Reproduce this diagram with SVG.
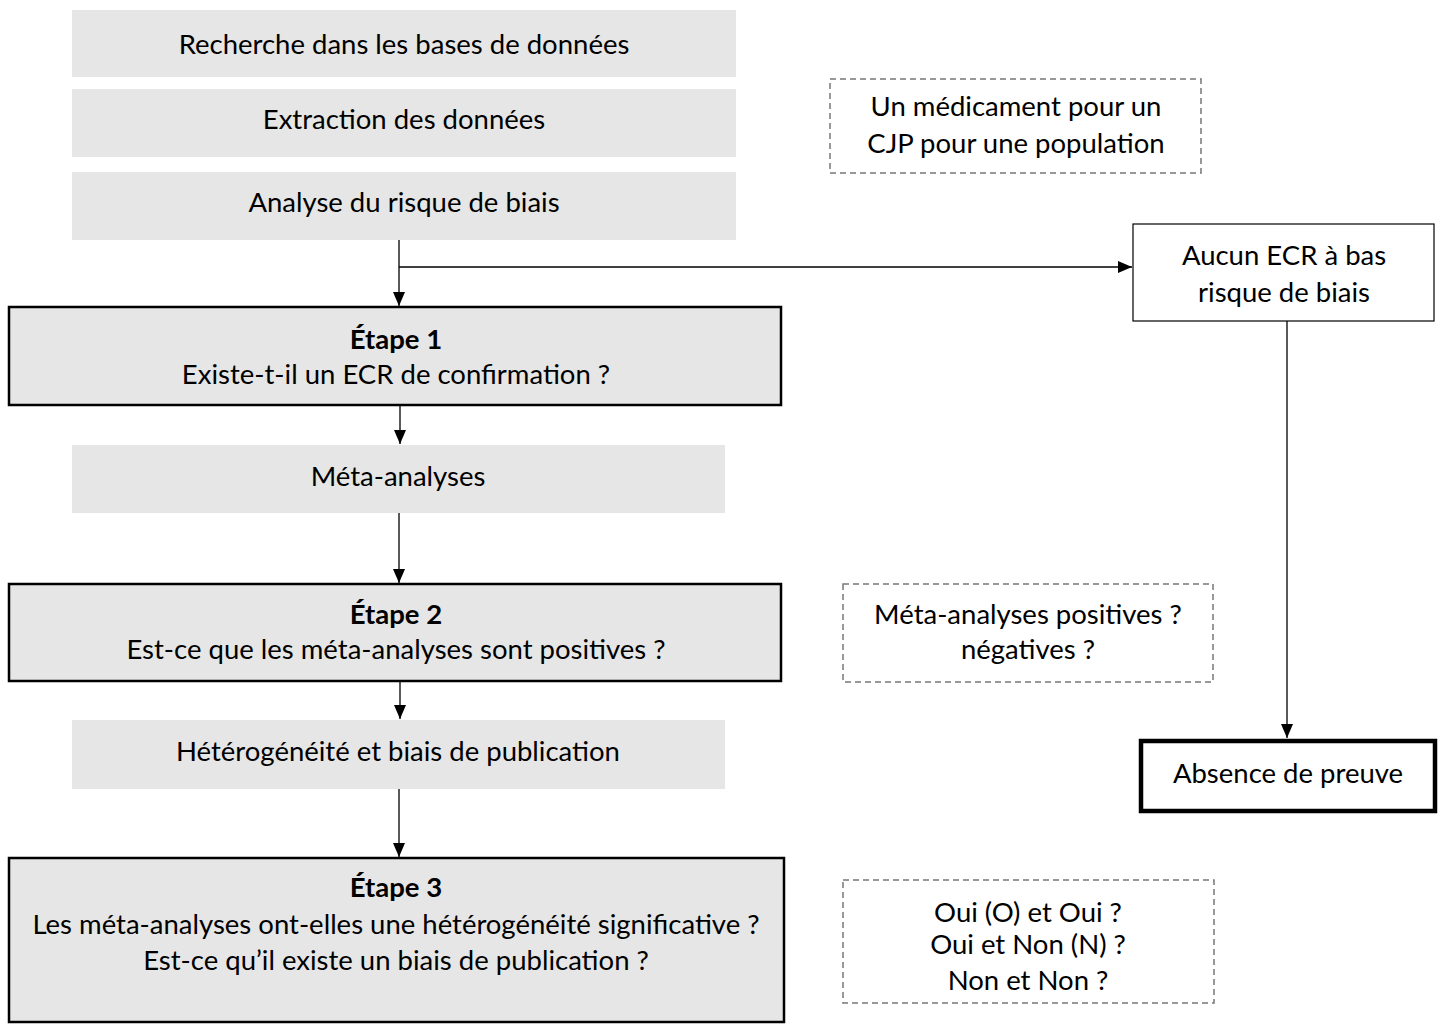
<svg xmlns="http://www.w3.org/2000/svg" width="1448" height="1024" viewBox="0 0 1448 1024">
<defs>
<style>
text{font-family:"Lato","Open Sans","Liberation Sans",sans-serif;font-size:27.5px;fill:#000;text-anchor:middle}
.b{font-weight:bold}
.g{fill:#e6e6e6;stroke:none}
.s{fill:#e6e6e6;stroke:#000;stroke-width:2.5}
.d{fill:#fff;stroke:#777;stroke-width:1.5;stroke-dasharray:6,4}
.w{fill:#fff;stroke:#000;stroke-width:1.2}
.t{fill:#fff;stroke:#000;stroke-width:4.5}
.c{fill:none;stroke:#000;stroke-width:1.3}
</style>
<marker id="ah" viewBox="0 0 14 12" refX="14" refY="6" markerWidth="14" markerHeight="12" markerUnits="userSpaceOnUse" orient="auto">
<path d="M0,0 L14,6 L0,12 z" fill="#000"/>
</marker>
</defs>
<rect width="1448" height="1024" fill="#fff"/>
<g id="connectors">
<path class="c" d="M399,240 V306" marker-end="url(#ah)"/>
<path class="c" d="M399,267 H1132" marker-end="url(#ah)"/>
<path class="c" d="M400,405 V444" marker-end="url(#ah)"/>
<path class="c" d="M399,513 V583" marker-end="url(#ah)"/>
<path class="c" d="M400,681 V719" marker-end="url(#ah)"/>
<path class="c" d="M399,789 V857" marker-end="url(#ah)"/>
<path class="c" d="M1287,321 V738" marker-end="url(#ah)"/>
</g>
<g id="n1"><rect class="g" x="72" y="10" width="664" height="67"/><text x="404" y="54">Recherche dans les bases de données</text></g>
<g id="n2"><rect class="g" x="72" y="89" width="664" height="68"/><text x="404" y="129">Extraction des données</text></g>
<g id="n3"><rect class="g" x="72" y="172" width="664" height="68"/><text x="404" y="212">Analyse du risque de biais</text></g>
<g id="e1"><rect class="s" x="9" y="307" width="772" height="98"/><text class="b" x="396" y="349">Étape 1</text><text x="396" y="384">Existe-t-il un ECR de confirmation ?</text></g>
<g id="n4"><rect class="g" x="72" y="445" width="653" height="68"/><text x="398" y="486">Méta-analyses</text></g>
<g id="e2"><rect class="s" x="9" y="584" width="772" height="97"/><text class="b" x="396" y="624">Étape 2</text><text x="396" y="659">Est-ce que les méta-analyses sont positives ?</text></g>
<g id="n5"><rect class="g" x="72" y="720" width="653" height="69"/><text x="398" y="761">Hétérogénéité et biais de publication</text></g>
<g id="e3"><rect class="s" x="9" y="858" width="775" height="164"/><text class="b" x="396" y="897">Étape 3</text><text x="396" y="934">Les méta-analyses ont-elles une hétérogénéité significative ?</text><text x="396" y="970">Est-ce qu’il existe un biais de publication ?</text></g>
<g id="d1"><rect class="d" x="830" y="79" width="371" height="94"/><text x="1016" y="116">Un médicament pour un</text><text x="1016" y="153">CJP pour une population</text></g>
<g id="aucun"><rect class="w" x="1133" y="224" width="301" height="97"/><text x="1284" y="265">Aucun ECR à bas</text><text x="1284" y="302">risque de biais</text></g>
<g id="absence"><rect class="t" x="1141" y="741" width="294" height="70"/><text x="1288" y="783">Absence de preuve</text></g>
<g id="d2"><rect class="d" x="843" y="584" width="370" height="98"/><text x="1028" y="624">Méta-analyses positives ?</text><text x="1028" y="659">négatives ?</text></g>
<g id="d3"><rect class="d" x="843" y="880" width="371" height="123"/><text x="1028" y="922">Oui (O) et Oui ?</text><text x="1028" y="954">Oui et Non (N) ?</text><text x="1028" y="990">Non et Non ?</text></g>
</svg>
